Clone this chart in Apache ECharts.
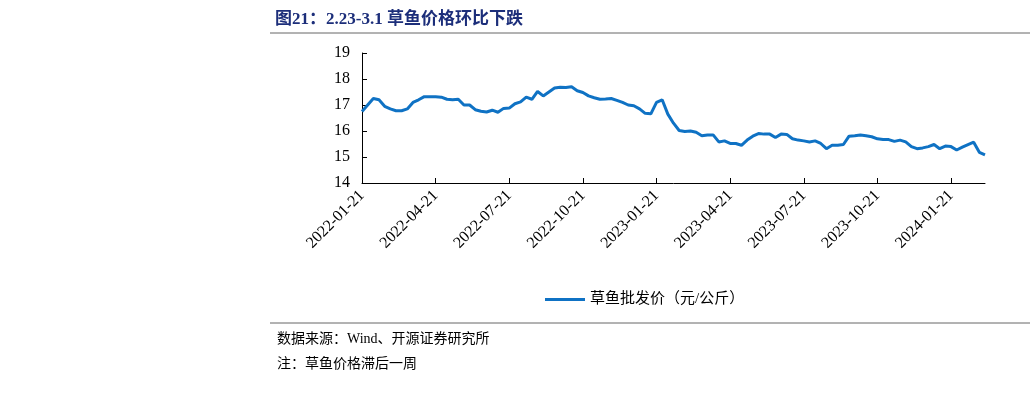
<!DOCTYPE html>
<html><head><meta charset="utf-8">
<script src="https://cdn.jsdelivr.net/npm/echarts@6/dist/echarts.min.js"></script>
<style>body{margin:0;background:#fff}#c{width:1035px;height:408px}</style>
</head><body><div id="c"></div>
<script>
const tickLabels = ['2022-01-21','2022-04-21','2022-07-21','2022-10-21','2023-01-21','2023-04-21','2023-07-21','2023-10-21','2024-01-21'];
const prices = [16.75,17.0,17.25,17.2,16.95,16.85,16.78,16.78,16.85,17.1,17.2,17.32,17.32,17.32,17.3,17.22,17.2,17.22,17.0,17.0,
16.82,16.76,16.73,16.8,16.72,16.87,16.88,17.05,17.12,17.3,17.22,17.52,17.35,17.5,17.65,17.68,17.67,17.7,17.55,17.48,
17.35,17.28,17.22,17.23,17.25,17.18,17.1,17.0,16.97,16.85,16.68,16.66,17.1,17.2,16.65,16.3,16.02,15.98,16.0,15.95,
15.82,15.85,15.85,15.58,15.62,15.52,15.52,15.45,15.65,15.8,15.9,15.88,15.88,15.75,15.88,15.87,15.7,15.65,15.62,15.58,
15.62,15.52,15.32,15.45,15.45,15.48,15.8,15.82,15.85,15.82,15.78,15.7,15.67,15.67,15.6,15.65,15.58,15.4,15.32,15.35,
15.4,15.48,15.32,15.42,15.4,15.27,15.38,15.48,15.57,15.18,15.08];
const seriesName = '草鱼批发价（元/公斤）';
const cats = prices.map((v,i)=> String(i));
const serif = '"Liberation Serif","Noto Sans CJK SC",serif';
const chart = echarts.init(document.getElementById('c'));
chart.setOption({
  animation:false,
  title:[{text:'图21：2.23-3.1 草鱼价格环比下跌',left:270,top:6,textStyle:{fontFamily:serif,fontSize:17,fontWeight:'bold',color:'#1c2e7a'}},
    {text:'数据来源：Wind、开源证券研究所',left:272,top:327,textStyle:{fontFamily:serif,fontSize:14,fontWeight:'normal',color:'#000'}},
    {text:'注：草鱼价格滞后一周',left:272,top:352,textStyle:{fontFamily:serif,fontSize:14,fontWeight:'normal',color:'#000'}}],
  graphic:[{type:'line',shape:{x1:270,y1:33,x2:1030,y2:33},style:{stroke:'#666',lineWidth:1}},
    {type:'line',shape:{x1:270,y1:323,x2:1030,y2:323},style:{stroke:'#666',lineWidth:1}}],
  legend:{top:287,left:540,itemWidth:40,itemHeight:3,icon:'rect',textStyle:{fontFamily:serif,fontSize:15,color:'#000'},data:[seriesName]},
  grid:{left:362,right:50,top:53,bottom:225},
  xAxis:{type:'category',data:cats,boundaryGap:false,
    axisLine:{lineStyle:{color:'#000'}},axisTick:{interval:12,inside:true,lineStyle:{color:'#000'}},
    axisLabel:{interval:12,rotate:45,fontFamily:serif,fontSize:16,color:'#000',margin:10,
      formatter:(v,i)=> tickLabels[i/13]||''}},
  yAxis:{type:'value',min:14,max:19,interval:1,splitLine:{show:false},
    axisLine:{show:true,lineStyle:{color:'#000'}},axisTick:{show:true,inside:true,lineStyle:{color:'#000'}},
    axisLabel:{fontFamily:serif,fontSize:16,color:'#000',margin:12}},
  series:[{name:seriesName,type:'line',data:prices,showSymbol:false,lineStyle:{color:'#0f72c4',width:3},itemStyle:{color:'#0f72c4'}}]
});
</script></body></html>
